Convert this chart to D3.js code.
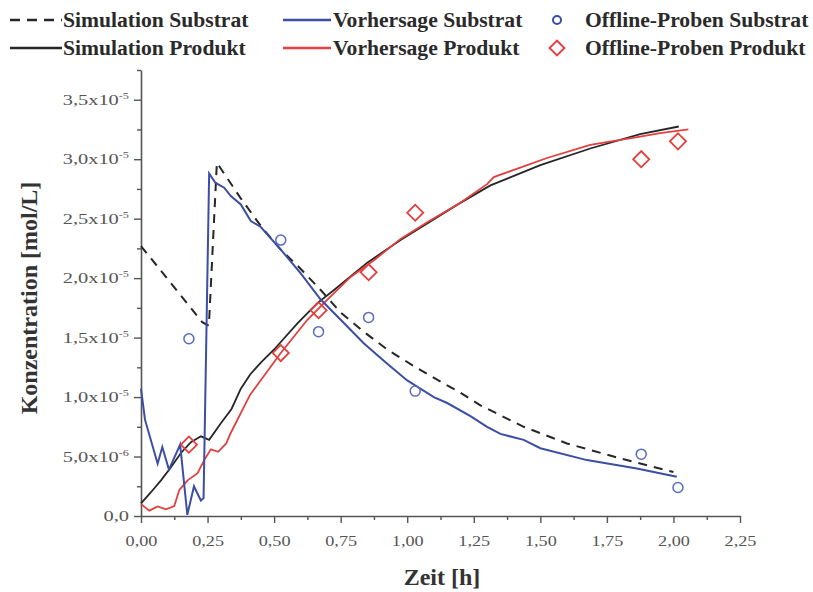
<!DOCTYPE html>
<html><head><meta charset="utf-8">
<script src="https://cdn.jsdelivr.net/npm/d3@7"></script>
<style>
body{margin:0;background:#fff;}
svg{display:block;font-family:"Liberation Serif","Times New Roman",serif;}
</style></head><body>
<svg id="chart" width="813" height="592"></svg>
<script>
// values in units of 1e-5 mol/L, time in hours
const simSubT = [0, 0.23, 0.255, 0.285, 0.375, 0.456, 0.525, 0.59, 0.675, 0.75, 0.836, 0.925, 1.025, 1.125, 1.19, 1.275, 1.4375, 1.6, 1.775, 2.0];
const simSubV = [2.27, 1.63, 1.60, 2.97, 2.67, 2.42, 2.24, 2.10, 1.90, 1.71, 1.55, 1.40, 1.26, 1.13, 1.05, 0.93, 0.75, 0.61, 0.50, 0.37];

const simProdT = [0, 0.0375, 0.075, 0.1125, 0.15, 0.1875, 0.225, 0.256, 0.3, 0.34, 0.375, 0.41, 0.45, 0.5, 0.5875, 0.6625, 0.725, 0.85, 0.975, 1.075, 1.19, 1.3125, 1.5, 1.6875, 1.875, 2.02];
const simProdV = [0.107, 0.20, 0.30, 0.41, 0.53, 0.62, 0.67, 0.64, 0.78, 0.90, 1.07, 1.19, 1.29, 1.40, 1.62, 1.79, 1.90, 2.13, 2.32, 2.46, 2.62, 2.78, 2.95, 3.09, 3.21, 3.275];

const predSubT = [0, 0.015, 0.0625, 0.08, 0.105, 0.147, 0.174, 0.199, 0.225, 0.235, 0.256, 0.28, 0.3125, 0.3375, 0.375, 0.4125, 0.45, 0.525, 0.6, 0.675, 0.75, 0.8375, 0.925, 1.0, 1.1, 1.15, 1.2375, 1.3, 1.35, 1.4375, 1.5, 1.675, 1.8625, 2.0125];
const predSubV = [1.07, 0.81, 0.44, 0.58, 0.39, 0.60, 0.01, 0.25, 0.13, 0.15, 2.88, 2.80, 2.76, 2.69, 2.62, 2.48, 2.43, 2.24, 2.04, 1.82, 1.65, 1.45, 1.28, 1.14, 1.00, 0.95, 0.84, 0.75, 0.69, 0.64, 0.57, 0.47, 0.40, 0.33];

const predProdT = [0, 0.031, 0.0625, 0.094, 0.125, 0.144, 0.175, 0.2125, 0.2375, 0.2625, 0.29, 0.32, 0.3375, 0.41, 0.525, 0.625, 0.7, 0.7875, 0.875, 0.975, 1.075, 1.19, 1.3, 1.325, 1.4375, 1.525, 1.6875, 1.875, 1.95, 2.056];
const predProdV = [0.10, 0.045, 0.08, 0.056, 0.084, 0.22, 0.30, 0.36, 0.47, 0.56, 0.54, 0.61, 0.70, 1.02, 1.37, 1.65, 1.82, 2.01, 2.15, 2.33, 2.47, 2.62, 2.79, 2.85, 2.94, 3.01, 3.12, 3.19, 3.22, 3.25];

const sampleT = [0.18, 0.525, 0.667, 0.855, 1.03, 1.879, 2.017];
const sampleSub = [1.49, 2.32, 1.55, 1.67, 1.05, 0.52, 0.24];
const sampleProd = [0.60, 1.37, 1.73, 2.05, 2.55, 3.00, 3.15];

const xTicks = [0, 0.25, 0.5, 0.75, 1.0, 1.25, 1.5, 1.75, 2.0, 2.25];
const xTickLabels = ["0,00","0,25","0,50","0,75","1,00","1,25","1,50","1,75","2,00","2,25"];
const yTicks = [0, 0.5, 1.0, 1.5, 2.0, 2.5, 3.0, 3.5];
const yTickMant = ["0,0","5,0x10","1,0x10","1,5x10","2,0x10","2,5x10","3,0x10","3,5x10"];
const yTickExp = ["", "-6", "-5", "-5", "-5", "-5", "-5", "-5"];

const legendLabels = ["Simulation Substrat","Simulation Produkt","Vorhersage Substrat","Vorhersage Produkt","Offline-Proben Substrat","Offline-Proben Produkt"];

const BLUE = "#3b4ea3", RED = "#e2403f", BLACK = "#262626", AX = "#555";

const svg = d3.select("#chart");
const x = d3.scaleLinear().domain([0, 2.25]).range([141, 740]);
const y = d3.scaleLinear().domain([0, 3.75]).range([516, 70]);

// axes
const xAxis = svg.append("g").attr("transform","translate(0,516)")
  .call(d3.axisBottom(x).tickValues(xTicks).tickSize(7).tickSizeOuter(0).tickFormat((d,i)=>xTickLabels[i]));
const xMinor = svg.append("g").attr("transform","translate(0,516)")
  .call(d3.axisBottom(x).tickValues(d3.range(0.125, 2.25, 0.25)).tickSize(4).tickFormat(""));
xMinor.select(".domain").remove();
const yAxis = svg.append("g").attr("transform","translate(141,0)")
  .call(d3.axisLeft(y).tickValues(yTicks).tickSize(7).tickSizeOuter(0).tickFormat(""));
const yMinor = svg.append("g").attr("transform","translate(141,0)")
  .call(d3.axisLeft(y).tickValues(d3.range(0.25, 3.8, 0.5)).tickSize(4).tickFormat(""));
yMinor.select(".domain").remove();
svg.selectAll(".domain").attr("stroke", AX).attr("stroke-width", 1.6);
svg.selectAll(".tick line").attr("stroke", AX).attr("stroke-width", 1.4);
xAxis.selectAll(".tick text").attr("fill","#555").attr("font-size","14px")
  .attr("font-family","Liberation Serif, serif").attr("y", 0).attr("dy", 0)
  .attr("transform","translate(0,30) scale(1.3,1)");

// y tick labels with superscripts
const yl = svg.append("g");
yTicks.forEach((v,i)=>{
  const g = yl.append("g").attr("transform", `translate(129,${y(v)+5}) scale(1.36,1)`);
  const t = g.append("text").attr("x", 0).attr("y", 0)
    .attr("text-anchor","end").attr("fill","#555").attr("font-size","15px");
  t.append("tspan").text(yTickMant[i]);
  if (yTickExp[i]) t.append("tspan").attr("font-size","9px").attr("dy","-6").text(yTickExp[i]);
});

// axis titles
svg.append("text").attr("x", 442).attr("y", 585).attr("text-anchor","middle")
  .attr("font-weight","bold").attr("font-size","24px").attr("fill","#333").text("Zeit [h]");
svg.append("text").attr("transform","translate(37,298) rotate(-90)").attr("text-anchor","middle")
  .attr("font-weight","bold").attr("font-size","24px").attr("fill","#333").text("Konzentration [mol/L]");

// lines
const line = d3.line().x(d=>x(d[0])).y(d=>y(d[1]));
const zip = (a,b)=>a.map((t,i)=>[t,b[i]]);
svg.append("path").datum(zip(simSubT, simSubV)).attr("d", line).attr("fill","none")
  .attr("stroke", BLACK).attr("stroke-width", 2).attr("stroke-dasharray","9,7");
svg.append("path").datum(zip(simProdT, simProdV)).attr("d", line).attr("fill","none")
  .attr("stroke", BLACK).attr("stroke-width", 1.8);
svg.append("path").datum(zip(predProdT, predProdV)).attr("d", line).attr("fill","none")
  .attr("stroke", RED).attr("stroke-width", 1.8);
svg.append("path").datum(zip(predSubT, predSubV)).attr("d", line).attr("fill","none")
  .attr("stroke", BLUE).attr("stroke-width", 2);

// samples
const diamond = d3.symbol().type(d3.symbolSquare).size(130);
svg.append("g").selectAll("circle").data(zip(sampleT, sampleSub)).join("circle")
  .attr("cx", d=>x(d[0])).attr("cy", d=>y(d[1])).attr("r", 5)
  .attr("fill","none").attr("stroke", "#5b6bbf").attr("stroke-width", 1.5);
svg.append("g").selectAll("path").data(zip(sampleT, sampleProd)).join("path")
  .attr("d", diamond).attr("transform", d=>`translate(${x(d[0])},${y(d[1])}) rotate(45)`)
  .attr("fill","none").attr("stroke", RED).attr("stroke-width", 1.8);

// legend
const lg = svg.append("g").attr("font-weight","bold").attr("font-size","21.6px").attr("fill","#2a2a2a");
const rows = [20, 48];
lg.append("line").attr("x1",10).attr("x2",62).attr("y1",rows[0]).attr("y2",rows[0])
  .attr("stroke",BLACK).attr("stroke-width",2.4).attr("stroke-dasharray","10,7");
lg.append("line").attr("x1",10).attr("x2",62).attr("y1",rows[1]).attr("y2",rows[1])
  .attr("stroke",BLACK).attr("stroke-width",2.4);
lg.append("line").attr("x1",283).attr("x2",331).attr("y1",rows[0]).attr("y2",rows[0])
  .attr("stroke",BLUE).attr("stroke-width",2.4);
lg.append("line").attr("x1",283).attr("x2",331).attr("y1",rows[1]).attr("y2",rows[1])
  .attr("stroke",RED).attr("stroke-width",2.4);
lg.append("circle").attr("cx",557).attr("cy",rows[0]).attr("r",4)
  .attr("fill","none").attr("stroke","#3b4ea3").attr("stroke-width",2);
lg.append("path").attr("d", d3.symbol().type(d3.symbolSquare).size(110))
  .attr("transform",`translate(557,${rows[1]}) rotate(45)`)
  .attr("fill","none").attr("stroke",RED).attr("stroke-width",2);
const lx = [63, 63, 333, 333, 585, 585], ly = [rows[0], rows[1], rows[0], rows[1], rows[0], rows[1]];
legendLabels.forEach((s,i)=>{
  lg.append("text").attr("x", lx[i]).attr("y", ly[i]+7).text(s);
});
</script>
</body></html>
